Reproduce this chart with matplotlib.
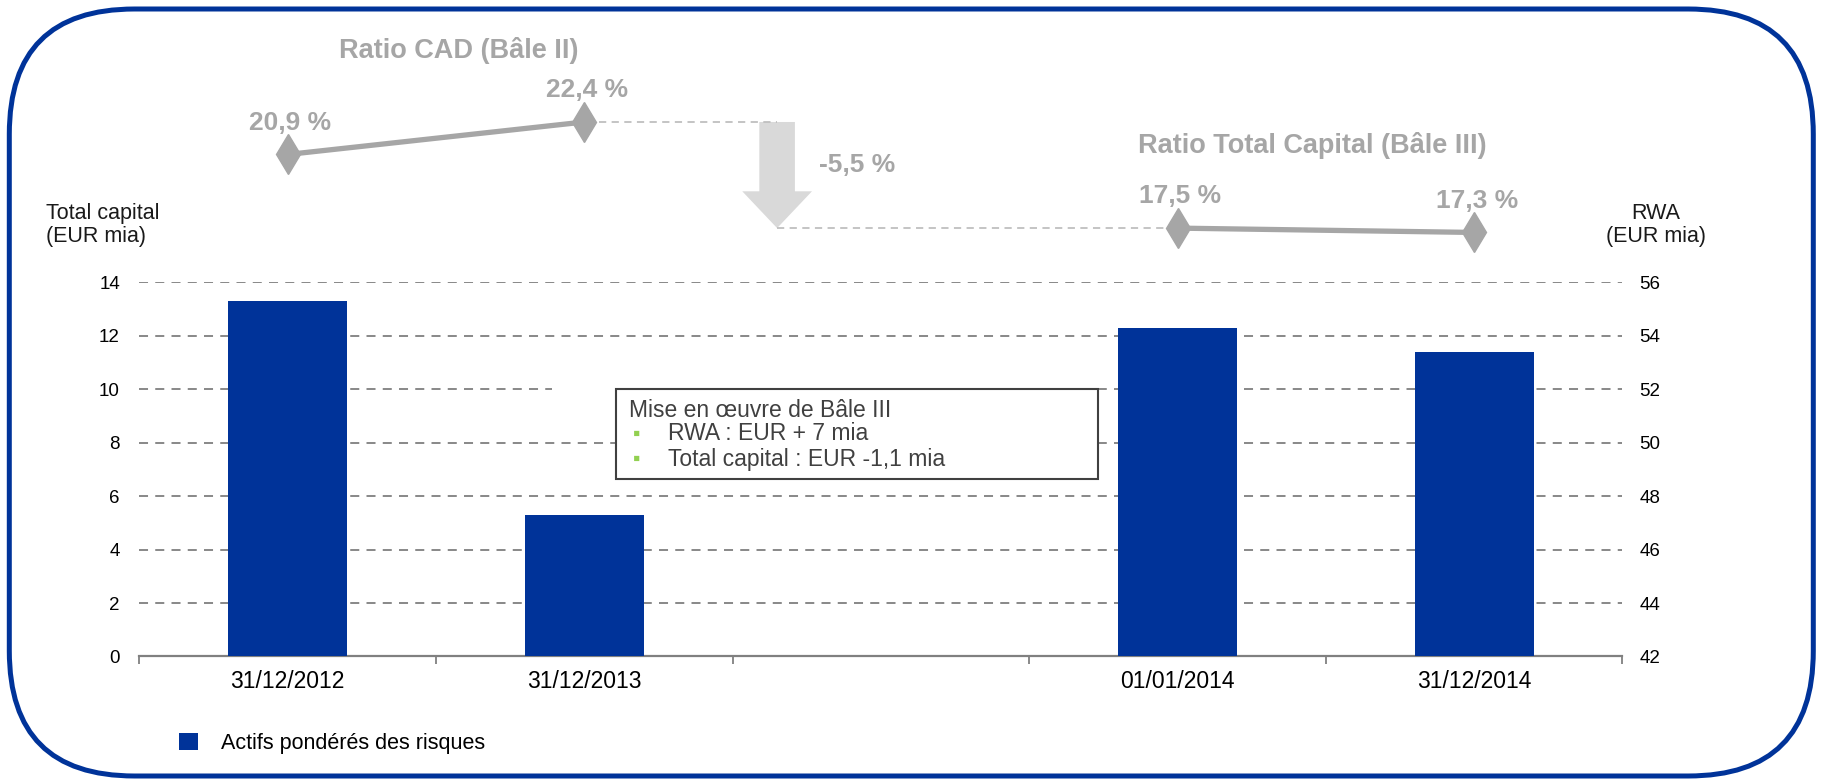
import numpy as np
import matplotlib
matplotlib.use("Agg")
import matplotlib.pyplot as plt
from matplotlib.patches import FancyBboxPatch, FancyArrow, Rectangle

plt.rcParams['font.family'] = ['Liberation Sans', 'DejaVu Sans']

# ------------------------------------------------------------------ #
# data
categories = ['31/12/2012', '31/12/2013', '', '01/01/2014', '31/12/2014']
rwa = [55.3, 47.3, np.nan, 54.3, 53.4]          # EUR mia, right axis
ratio_b2_dates = ['31/12/2012', '31/12/2013']
ratio_b2 = [20.9, 22.4]                         # Ratio CAD (Bale II)
ratio_b3_dates = ['01/01/2014', '31/12/2014']
ratio_b3 = [17.5, 17.3]                         # Ratio Total Capital (Bale III)
ratio_drop = -5.5
left_ticks = [0, 2, 4, 6, 8, 10, 12, 14]
right_ticks = [42, 44, 46, 48, 50, 52, 54, 56]

blue = '#003399'
grey = '#a6a6a6'
light = '#bfbfbf'

fig = plt.figure(figsize=(18.22, 7.83), dpi=100)

# ------------------------------------------------------------------ #
# bar chart
ax = fig.add_axes([0.0765, 0.1616, 0.814, 0.4777])
ax2 = ax.twinx()
x = np.arange(len(categories))

ax2.bar(x, rwa, width=0.4, color=blue, label='Actifs pondérés des risques', zorder=3)
ax2.set_ylim(right_ticks[0], right_ticks[-1])
ax.set_ylim(left_ticks[0], left_ticks[-1])
ax.set_xlim(-0.5, len(categories) - 0.5)
ax.set_yticks(left_ticks)
ax2.set_yticks(right_ticks)

ax.set_axisbelow(True)
ax.yaxis.grid(True, color='#7f7f7f', linestyle=(0, (5, 4)), linewidth=1.3)
# the grid at 10 is cut just left of the comment box
ax.add_patch(Rectangle((0.89, 9.7), 0.22, 0.6, facecolor='white', edgecolor='none', zorder=1))

for a in (ax, ax2):
    for s in ['top', 'left', 'right']:
        a.spines[s].set_visible(False)
    a.tick_params(axis='y', length=0, labelsize=13.5, colors='black')
ax.spines['bottom'].set_color('#808080')
ax.spines['bottom'].set_linewidth(1.6)
ax2.spines['bottom'].set_visible(False)
ax.tick_params(axis='y', pad=14)
ax2.tick_params(axis='y', pad=12)

ax.set_xticks(x)
ax.set_xticklabels(categories, fontsize=16.5)
ax.set_xticks(np.arange(len(categories) + 1) - 0.5, minor=True)
ax.tick_params(axis='x', which='major', length=0, pad=10)
ax.tick_params(axis='x', which='minor', length=6, width=1.3, color='#808080')

fig.text(0.0255, 0.713, 'Total capital\n(EUR mia)', fontsize=15.5, ha='left', va='center',
         linespacing=1.15, color='#1a1a1a')
fig.text(0.909, 0.713, 'RWA\n(EUR mia)', fontsize=15.5, ha='center', va='center',
         linespacing=1.15, color='#1a1a1a')

# ------------------------------------------------------------------ #
# capital ratios above the bars
axt = fig.add_axes([0.0765, 0.668, 0.814, 0.3065])
axt.set_xlim(-0.5, len(categories) - 0.5)
axt.set_ylim(16.03, 27.11)
axt.axis('off')

xb2 = [categories.index(d) for d in ratio_b2_dates]
xb3 = [categories.index(d) for d in ratio_b3_dates]
for xs, ys in [(xb2, ratio_b2), (xb3, ratio_b3)]:
    axt.plot(xs, ys, color=grey, linewidth=3.8, marker='d', markersize=20,
             markeredgecolor=grey, markerfacecolor=grey, zorder=3)
    for xi, yi in zip(xs, ys):
        axt.annotate(f'{yi:.1f} %'.replace('.', ','), (xi, yi), xytext=(2, 23),
                     textcoords='offset points', ha='center', va='center',
                     fontsize=19, fontweight='bold', color=grey)

# transition Bale II -> Bale III
x_arrow = 1.65
axt.plot([xb2[-1] + 0.05, x_arrow], [ratio_b2[-1]] * 2, color=light,
         linestyle=(0, (4, 3)), linewidth=1.3)
axt.plot([x_arrow, xb3[0] - 0.03], [ratio_b3[0]] * 2, color=light,
         linestyle=(0, (4, 3)), linewidth=1.3)
axt.add_patch(FancyArrow(x_arrow, ratio_b2[-1], 0, ratio_b3[0] - ratio_b2[-1],
                         width=0.12, head_width=0.235, head_length=1.7,
                         length_includes_head=True, color='#d9d9d9', linewidth=0))
fig.text(0.4707, 0.7893, f'{ratio_drop:.1f} %'.replace('.', ','), fontsize=19,
         fontweight='bold', color=grey, ha='center', va='center')

fig.text(0.2519, 0.9349, 'Ratio CAD (Bâle II)', fontsize=19.5, fontweight='bold',
         color=grey, ha='center', va='center')
fig.text(0.720, 0.8144, 'Ratio Total Capital (Bâle III)', fontsize=19.5, fontweight='bold',
         color=grey, ha='center', va='center')

# ------------------------------------------------------------------ #
# comment box
fig.add_artist(Rectangle((616 / 1822, 1 - 479 / 783), (1098 - 616) / 1822, (479 - 389) / 783,
                         transform=fig.transFigure, facecolor='white', edgecolor='#404040',
                         linewidth=1.5, zorder=5))
fig.text(629 / 1822, 1 - 410 / 783, 'Mise en œuvre de Bâle III',
         fontsize=16.5, color='#404040', va='center', zorder=6)
for i, line in enumerate(['RWA : EUR + 7 mia', 'Total capital : EUR -1,1 mia']):
    yy = 1 - (434 + 25.5 * i) / 783
    fig.text(633 / 1822, yy, '\u25aa', fontsize=15, color='#92d050',
             va='center', zorder=6)
    fig.text(668 / 1822, yy, line, fontsize=16.5, color='#404040',
             va='center', zorder=6)

# legend
fig.legend(loc='center left', bbox_to_anchor=(0.0878, 0.05), frameon=False, fontsize=15.5,
           handlelength=0.85, handleheight=0.85, handletextpad=1.1)

# rounded frame
fig.add_artist(FancyBboxPatch((0.093, 0.07), 18.04, 7.67,
                              boxstyle='round,pad=0,rounding_size=1.25',
                              transform=fig.dpi_scale_trans, facecolor='none',
                              edgecolor=blue, linewidth=3.6, zorder=10))

fig.savefig('out.png', dpi=100)
